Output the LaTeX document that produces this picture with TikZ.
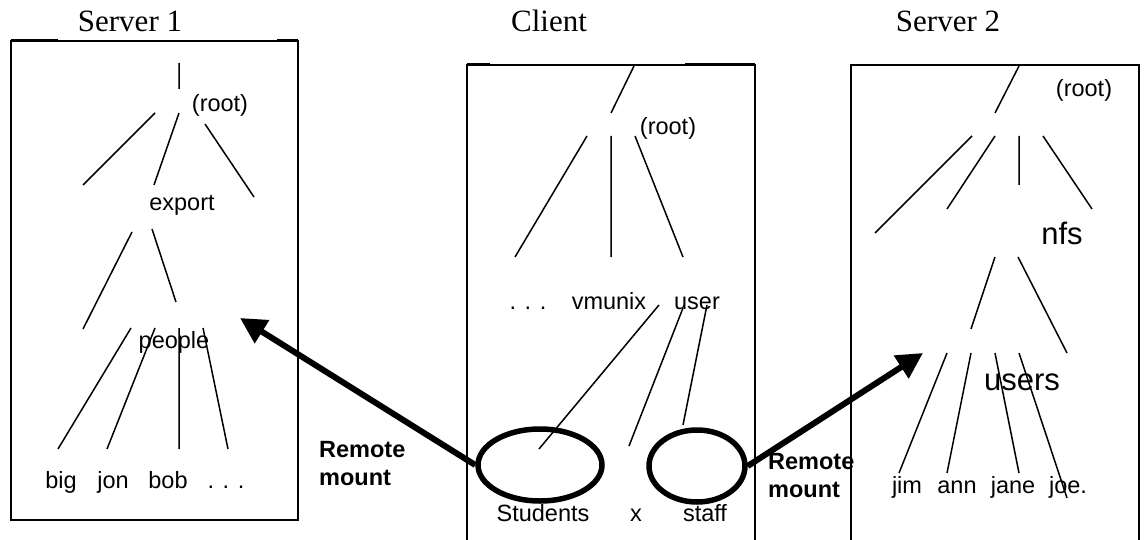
\documentclass[tikz,border=0pt]{standalone}
\usepackage{fontspec}
\setmainfont{Liberation Sans}
\newfontfamily\titlefont{Liberation Serif}
\usetikzlibrary{arrows.meta,shapes.geometric}

\tikzset{
  title/.style={font=\titlefont\fontsize{31}{31}\selectfont,anchor=base},
  lbl/.style={font=\fontsize{23.5}{24}\selectfont,inner sep=0pt},
  big/.style={font=\fontsize{31}{31}\selectfont,inner sep=0pt},
  remark/.style={font=\bfseries\fontsize{23.5}{28}\selectfont,align=left,anchor=west,inner sep=0pt},
  treeline/.style={line width=1.5pt},
  boxline/.style={line width=1.8pt},
  ring/.style={ellipse,draw,line width=5.5pt,inner sep=0pt},
  mountarrow/.style={line width=6pt,-{Triangle[length=26pt,width=26pt]}}
}

\begin{document}
\begin{tikzpicture}[x=1pt,y=-1pt]
 \useasboundingbox (0,0) rectangle (1145,540);
 % titles
 \node[title] (t1) at (130,32) {Server 1};
 \node[title] (tc) at (549,32) {Client};
 \node[title] (t2) at (948,32) {Server 2};

 % boxes
 \draw[boxline] (11,41) rectangle (298,520); %server 1
 \draw[line width=3pt] (11,41)--(58,41) (277,41)--(298,41);
 \draw[boxline] (467,545)--(467,65)--(755,65)--(755,545); %client
 \draw[line width=3pt] (467,65)--(490,65) (685,65)--(755,65);
 \draw[boxline] (851,545)--(851,65)--(1139,65)--(1139,545); %server 2

 % server 1 tree
 \node[lbl] (r1) at (220,105) {(root)};
 \node[lbl] (export) at (182,205) {export};
 \node[lbl] (people) at (174,342) {people};
 \node[lbl,anchor=base] (big) at (61,488) {big};
 \node[lbl,anchor=base] (jon) at (113,488) {jon};
 \node[lbl,anchor=base] (bob) at (168,488) {bob};
 \node[lbl,anchor=base] (dots1) at (226,488) {. . .};
 \draw[treeline] (179,63)--(179,89) (155,113)--(83,185) (179,113)--(154,185)
   (205,124)--(254,197) (132,232)--(83,329) (152,229)--(176,302)
   (131,328)--(58,449) (155,328)--(107,449) (179,328)--(179,449) (203,328)--(228,449);

 % client tree
 \node[lbl] (rc) at (668,128) {(root)};
 \node[lbl,anchor=base] (dotsc) at (528,309) {. . .};
 \node[lbl,anchor=base] (vmunix) at (609,309) {vmunix};
 \node[lbl,anchor=base] (user) at (697,309) {user};
 \node[lbl,anchor=base] (students) at (543,521) {Students};
 \node[lbl,anchor=base] (x) at (636,521) {x};
 \node[lbl,anchor=base] (staff) at (705,521) {staff};
 \draw[treeline] (634,66)--(611,113) (587,136)--(515,257) (611,136)--(611,257)
   (635,136)--(683,257) (659,305)--(539,449) (683,308)--(629,446) (707,305)--(683,425);
 \node[ring,minimum width=124pt,minimum height=72pt] (studring) at (540,465) {};
 \node[ring,minimum width=96pt,minimum height=72pt] (staffring) at (697,466) {};

 % server 2 tree
 \node[lbl] (r2) at (1084,90) {(root)};
 \node[big] (nfs) at (1062,233) {nfs};
 \node[big] (users) at (1022,382) {users};
 \node[lbl,anchor=base] (jim) at (907,493) {jim};
 \node[lbl,anchor=base] (ann) at (957,493) {ann};
 \node[lbl,anchor=base] (jane) at (1013,493) {jane};
 \node[lbl,anchor=base] (joe) at (1068,493) {joe.};
 \draw[treeline] (1019,66)--(995,113) (972,136)--(875,233) (995,136)--(947,209)
   (1019,136)--(1019,185) (1043,136)--(1092,209) (995,257)--(971,329)
   (1018,257)--(1067,353) (947,353)--(899,473) (971,353)--(947,473)
   (995,353)--(1019,473) (1019,353)--(1067,498);

 % remote mounts
 \coordinate (tip1) at (240,318);
 \coordinate (tip2) at (923,353);
 \draw[mountarrow] (studring.west) -- (tip1);
 \draw[mountarrow] (staffring.east) -- (tip2);
 \node[remark] (rm1) at (319,464) {Remote\\mount};
 \node[remark] (rm2) at (768,476) {Remote\\mount};
\end{tikzpicture}
\end{document}
